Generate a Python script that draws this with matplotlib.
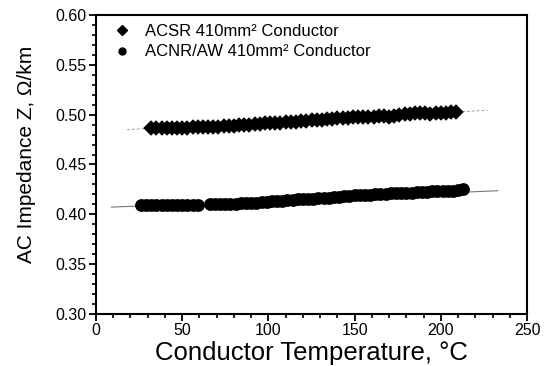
import numpy as np
import matplotlib
matplotlib.use("Agg")
import matplotlib.pyplot as plt
from matplotlib.ticker import MultipleLocator

plt.rcParams['font.family'] = ['Liberation Sans', 'DejaVu Sans']

# ACSR 410mm2 conductor (diamonds)
acsr_t = [32, 35, 38, 41, 44, 47, 50, 53, 56, 59, 62, 65, 68, 71, 74, 77, 80, 83, 86, 89,
          92, 95, 98, 101, 104, 107, 110, 113, 116, 119, 122, 125, 128, 131, 134, 137, 140,
          143, 146, 149, 152, 155, 158, 161, 164, 167, 170, 173, 176, 179, 182, 185, 188,
          191, 194, 197, 200, 203, 206, 209]
acsr_z = [.4872, .4870, .4868, .4865, .4866, .4868, .4870, .4872, .4873, .4875, .4876, .4878,
          .4880, .4881, .4884, .4887, .4889, .4893, .4897, .4901, .4906, .4910, .4914, .4918,
          .4920, .4922, .4925, .4928, .4932, .4936, .4940, .4944, .4947, .4952, .4957, .4961,
          .4964, .4968, .4972, .4975, .4977, .4979, .4981, .4983, .4986, .4984, .4979, .4990,
          .5002, .5008, .5012, .5014, .5016, .5014, .5013, .5015, .5017, .5020, .5025, .5030]

# ACNR/AW 410mm2 conductor (circles)
acnr_t = [26, 29, 32, 35, 38, 41, 44, 47, 50, 53, 56, 59,
          66, 69, 72, 75, 78, 81, 84, 87, 90, 93, 96, 99, 102, 105, 108, 111, 114, 117, 120,
          123, 126, 129, 132, 135, 138, 141, 144, 147, 150, 153, 156, 159, 162, 165, 168,
          171, 174, 177, 180, 183, 186, 189, 192, 195, 198, 201, 204, 207, 210, 213]
acnr_z = [.4090, .4092, .4090, .4089, .4091, .4090, .4092, .4093, .4092, .4094, .4095, .4096,
          .4098, .4100, .4101, .4103, .4104, .4106, .4108, .4110, .4114, .4117, .4121, .4125,
          .4129, .4133, .4137, .4141, .4145, .4149, .4153, .4155, .4157, .4159, .4162, .4166,
          .4171, .4176, .4181, .4185, .4189, .4192, .4195, .4198, .4201, .4204, .4207, .4210,
          .4212, .4213, .4215, .4217, .4220, .4224, .4228, .4232, .4236, .4233, .4230, .4238,
          .4246, .4252]

# linear fits
acsr_fit_t = [18, 227]
acsr_fit_z = [0.4851, 0.5046]
acnr_fit_t = [9, 233]
acnr_fit_z = [0.4071, 0.4236]

fig = plt.figure(figsize=(5.54, 3.66), dpi=100)
ax = fig.add_axes([0.1733, 0.1434, 0.7780, 0.8143])

ax.plot(acsr_fit_t, acsr_fit_z, color='#999999', lw=0.7, ls=(0, (3, 2)), zorder=1)
ax.plot(acnr_fit_t, acnr_fit_z, color='#777777', lw=0.8, ls='-', zorder=1)
ax.plot(acsr_t, acsr_z, 'D', color='black', ms=5.5, mec='black', mew=2.8, zorder=2,
        label='ACSR 410mm² Conductor')
ax.plot(acnr_t, acnr_z, 'o', color='black', ms=7, mec='black', mew=2.2, zorder=2,
        label='ACNR/AW 410mm² Conductor')

ax.set_xlim(0, 250)
ax.set_ylim(0.30, 0.60)
ax.xaxis.set_major_locator(MultipleLocator(50))
ax.xaxis.set_minor_locator(MultipleLocator(10))
ax.yaxis.set_major_locator(MultipleLocator(0.05))
ax.yaxis.set_minor_locator(MultipleLocator(0.01))
ax.yaxis.set_major_formatter(matplotlib.ticker.FormatStrFormatter('%.2f'))
ax.tick_params(which='major', direction='out', length=5, width=1.3, labelsize=11.5, pad=2)
ax.tick_params(which='minor', direction='out', length=3, width=1.2)
for s in ax.spines.values():
    s.set_linewidth(1.5)

ax.set_xlabel('Conductor Temperature, °C', fontsize=18.5, labelpad=2)
ax.set_ylabel('AC Impedance Z, Ω/km', fontsize=15)
ax.yaxis.set_label_coords(-0.14, 0.535)

leg = ax.legend(loc='upper left', bbox_to_anchor=(0.029, 0.983), frameon=False,
                fontsize=12, handlelength=1.2, handletextpad=0.8, labelspacing=0.33,
                borderpad=0.2, borderaxespad=0)
for h in leg.legend_handles:
    h.set_markersize(5)
    h.set_markeredgewidth(1)

fig.savefig('out.png', dpi=100)
